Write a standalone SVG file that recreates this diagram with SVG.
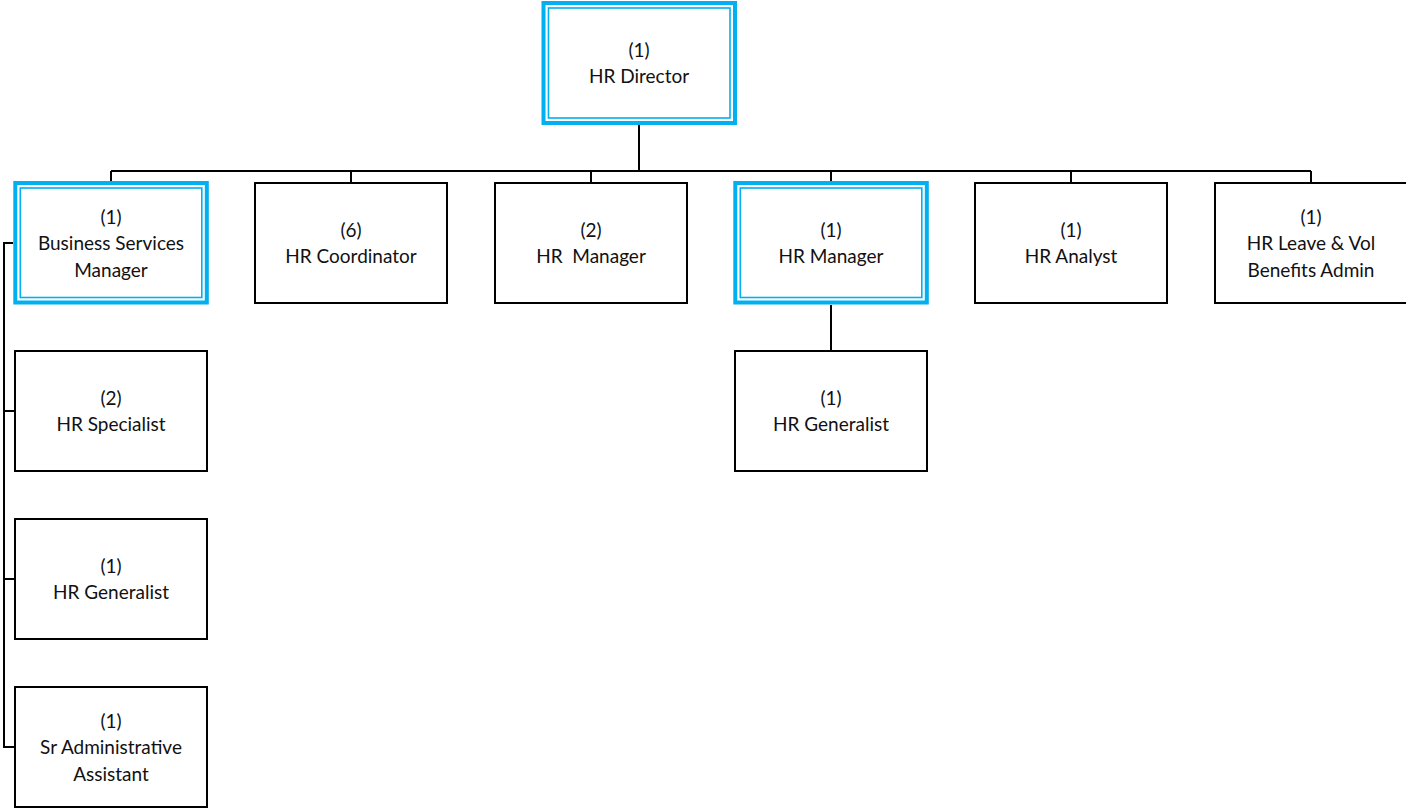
<svg xmlns="http://www.w3.org/2000/svg" width="1406" height="809" viewBox="0 0 1406 809">
<style>
.bg{fill:#fff}
.box{fill:#fff;stroke:#000;stroke-width:2}
.hlo{fill:#fff;stroke:#00B0F0;stroke-width:4}
.hli{fill:none;stroke:#00B0F0;stroke-width:1.6}
.lbl{font-family:Lato,"Open Sans",sans-serif;font-size:19px;fill:#111;text-anchor:middle;white-space:pre}
.conn{fill:none;stroke:#000;stroke-width:2}
</style>
<rect class="bg" x="0" y="0" width="1406" height="809"/>
<g id="connectors">
<path class="conn" d="M639,125 V171 M111,171 H1311 M111,171 V183 M351,171 V183 M591,171 V183 M831,171 V183 M1071,171 V183 M1311,171 V183"/>
<path class="conn" d="M13,243 H4 V747 H15 M4,411 H15 M4,579 H15"/>
<path class="conn" d="M831,305 V351"/>
</g>
<g id="hr-director">
<rect class="hlo" x="543.5" y="3" width="191.5" height="120"/>
<rect class="hli" x="548.5" y="8" width="181.5" height="110"/>
<text class="lbl" x="639" y="57">(1)</text>
<text class="lbl" x="639" y="83">HR Director</text>
</g>
<g id="business-services-manager">
<rect class="hlo" x="15.3" y="183" width="191.5" height="119.5"/>
<rect class="hli" x="20.3" y="188" width="181.5" height="109.5"/>
<text class="lbl" x="111" y="224">(1)</text>
<text class="lbl" x="111" y="250">Business Services</text>
<text class="lbl" x="111" y="277">Manager</text>
</g>
<g id="hr-coordinator">
<rect class="box" x="255" y="183" width="192" height="120"/>
<text class="lbl" x="351" y="237">(6)</text>
<text class="lbl" x="351" y="263">HR Coordinator</text>
</g>
<g id="hr-manager-2">
<rect class="box" x="495" y="183" width="192" height="120"/>
<text class="lbl" x="591" y="237">(2)</text>
<text class="lbl" x="591" y="263">HR  Manager</text>
</g>
<g id="hr-manager-1">
<rect class="hlo" x="735.3" y="183" width="191.5" height="119.5"/>
<rect class="hli" x="740.3" y="188" width="181.5" height="109.5"/>
<text class="lbl" x="831" y="237">(1)</text>
<text class="lbl" x="831" y="263">HR Manager</text>
</g>
<g id="hr-analyst">
<rect class="box" x="975" y="183" width="192" height="120"/>
<text class="lbl" x="1071" y="237">(1)</text>
<text class="lbl" x="1071" y="263">HR Analyst</text>
</g>
<g id="hr-leave-benefits">
<rect class="box" x="1215" y="183" width="192" height="120"/>
<text class="lbl" x="1311" y="224">(1)</text>
<text class="lbl" x="1311" y="250">HR Leave &amp; Vol</text>
<text class="lbl" x="1311" y="277">Benefits Admin</text>
</g>
<g id="hr-generalist-mgr">
<rect class="box" x="735" y="351" width="192" height="120"/>
<text class="lbl" x="831" y="405">(1)</text>
<text class="lbl" x="831" y="431">HR Generalist</text>
</g>
<g id="hr-specialist">
<rect class="box" x="15" y="351" width="192" height="120"/>
<text class="lbl" x="111" y="405">(2)</text>
<text class="lbl" x="111" y="431">HR Specialist</text>
</g>
<g id="hr-generalist-bsm">
<rect class="box" x="15" y="519" width="192" height="120"/>
<text class="lbl" x="111" y="573">(1)</text>
<text class="lbl" x="111" y="599">HR Generalist</text>
</g>
<g id="sr-admin-assistant">
<rect class="box" x="15" y="687" width="192" height="120"/>
<text class="lbl" x="111" y="728">(1)</text>
<text class="lbl" x="111" y="754">Sr Administrative</text>
<text class="lbl" x="111" y="781">Assistant</text>
</g>
</svg>
